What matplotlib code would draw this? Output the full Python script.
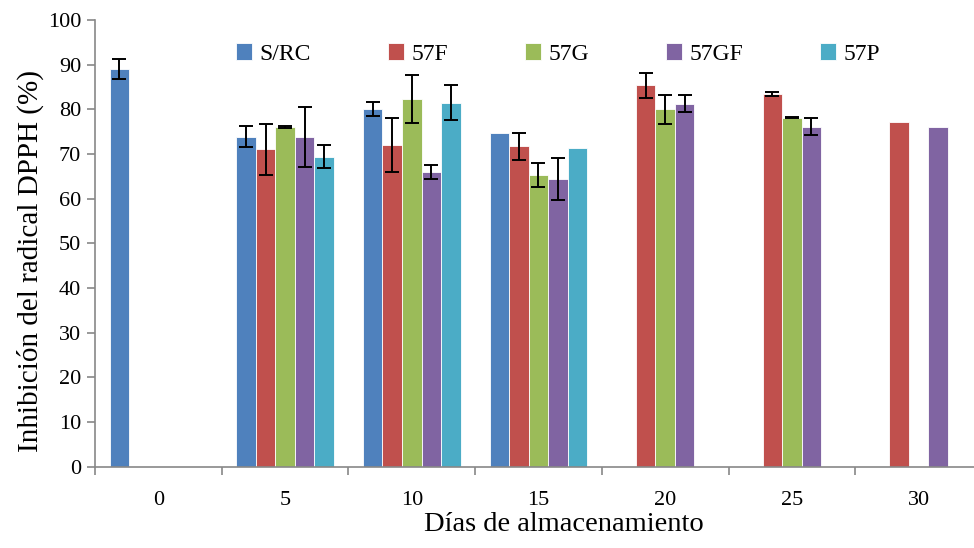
import numpy as np
import matplotlib.pyplot as plt

plt.rcParams['font.family'] = ['Liberation Serif', 'DejaVu Serif']

dias = ["0", "5", "10", "15", "20", "25", "30"]
series = ["S/RC", "57F", "57G", "57GF", "57P"]
colors = ["#4F81BD", "#C0504D", "#9BBB59", "#8064A2", "#4BACC6"]
nan = np.nan

src = [89.0, 73.9, 80.1, 74.6, nan, nan, nan]
f57 = [nan, 71.1, 72.0, 71.7, 85.4, 83.4, 77.2]
g57 = [nan, 76.1, 82.3, 65.3, 80.0, 78.1, nan]
gf57 = [nan, 73.8, 65.9, 64.3, 81.2, 76.1, 76.1]
p57 = [nan, 69.4, 81.5, 71.4, nan, nan, nan]

src_err = [2.3, 2.3, 1.6, nan, nan, nan, nan]
f57_err = [nan, 5.7, 6.1, 3.1, 2.8, 0.5, nan]
g57_err = [nan, 0.2, 5.4, 2.65, 3.2, 0.1, nan]
gf57_err = [nan, 6.7, 1.6, 4.7, 1.9, 1.9, nan]
p57_err = [nan, 2.6, 4.0, nan, nan, nan, nan]

values = [src, f57, g57, gf57, p57]
errors = [src_err, f57_err, g57_err, gf57_err, p57_err]

fig = plt.figure(figsize=(9.74, 5.48), dpi=100)
ax = fig.add_axes([0.0975, 0.148, 0.9107, 0.8157])

x = np.arange(len(dias))
w = 0.154
for i, (name, vals, errs, c) in enumerate(zip(series, values, errors, colors)):
    pos = x + (i - 2) * w
    ax.bar(pos, vals, width=w, color=c, edgecolor="white", linewidth=0.6, label=name)
    ax.errorbar(pos, vals, yerr=errs, fmt="none", ecolor="black",
                elinewidth=1.4, capsize=4.8, capthick=1.4)

ax.set_xlim(-0.5, len(dias) - 0.5)
ax.set_ylim(0, 100)
ax.set_yticks(np.arange(0, 101, 10))
ax.set_xticks(x)
ax.set_xticklabels(dias)
ax.set_xticks(np.arange(-0.5, len(dias), 1), minor=True)
ax.tick_params(axis="x", which="major", length=0, pad=17, labelsize=16)
ax.tick_params(axis="x", which="minor", length=6, color="#888888", width=1.2)
ax.tick_params(axis="y", length=6, color="#888888", width=1.2, labelsize=16, pad=4)

for s in ["top", "right"]:
    ax.spines[s].set_visible(False)
for s in ["left", "bottom"]:
    ax.spines[s].set_color("#888888")
    ax.spines[s].set_linewidth(1.2)

ax.set_xlabel("Días de almacenamiento", fontsize=20.5)
ax.set_ylabel("Inhibición del radical DPPH (%)", fontsize=21)
ax.xaxis.set_label_coords(0.529, -0.1)
ax.yaxis.set_label_coords(-0.058, 0.46)

ax.legend(ncol=5, frameon=False, loc="upper left", bbox_to_anchor=(0.135, 0.995),
          fontsize=17, handlelength=0.7, handleheight=0.7, handletextpad=0.3,
          columnspacing=3.25)

fig.savefig("out.png", dpi=100)
